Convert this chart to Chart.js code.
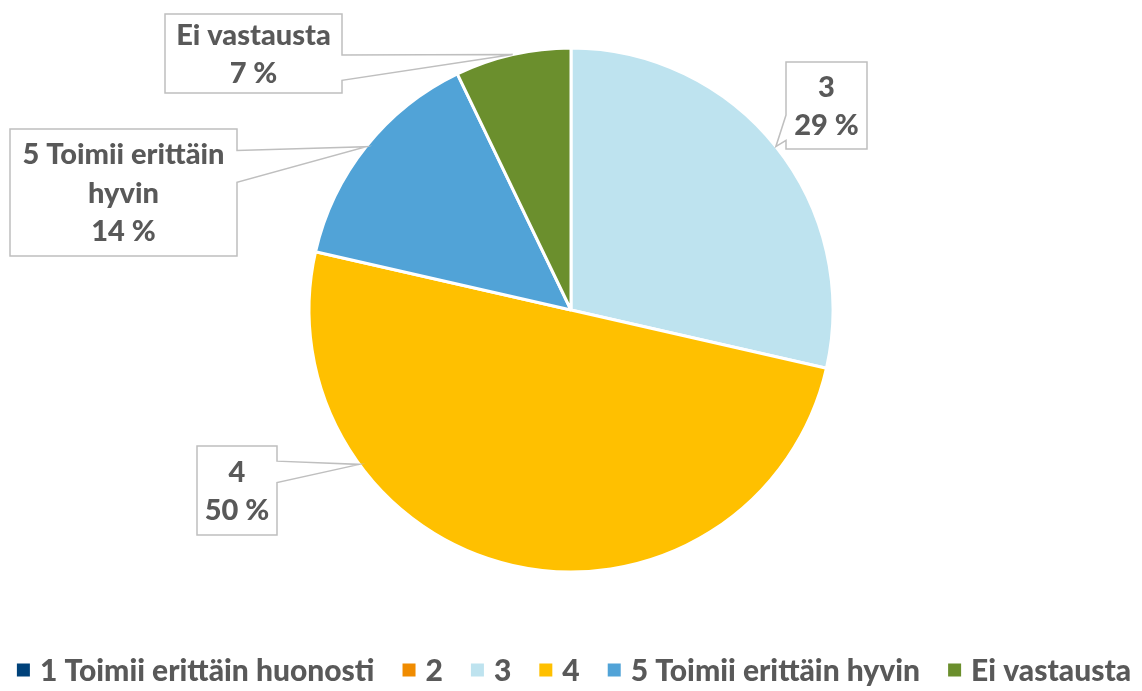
<!DOCTYPE html>
<html>
<head>
<meta charset="utf-8">
<script src="https://cdn.jsdelivr.net/npm/chart.js@4"></script>
<style>
  html, body { margin: 0; padding: 0; background: #ffffff; }
  #wrap { width: 1142px; height: 691px; }
</style>
</head>
<body>
<div id="wrap"><canvas id="c" width="1142" height="691"></canvas></div>
<script>
// ---- data ----
const categories = ['1 Toimii erittäin huonosti', '2', '3', '4', '5 Toimii erittäin hyvin', 'Ei vastausta'];
const responses = [0, 0, 4, 7, 2, 1];
const sliceColors = ['#00427A', '#F08C00', '#BEE3EF', '#FFC000', '#51A3D7', '#6B8F2D'];

// ---- callout layout (positions only) ----
const calloutLayout = {
  2: { box: [786, 62, 81, 87],  side: 'left',  wedge: [0.61, 0.90], frac: 0.5 },
  3: { box: [197, 446, 80, 89], side: 'right', wedge: [0.17, 0.41], frac: 0.728 },
  4: { box: [10, 129, 227, 127], side: 'right', wedge: [0.17, 0.42], frac: 0.5 },
  5: { box: [165, 14, 177, 79], side: 'right', wedge: [0.52, 0.84], frac: 0.5 }
};
const legendLayout = { centerX: 574, middleY: 670, box: 13, boxGap: 10, itemGap: 28, fontSize: 30 };

const TEXT_COLOR = '#595959';
const FONT_FAMILY = 'Lato, "Open Sans", "Liberation Sans", sans-serif';

function wrapText(ctx, text, maxW) {
  const words = text.split(' ');
  const lines = [];
  let cur = '';
  words.forEach(w => {
    const test = cur ? cur + ' ' + w : w;
    if (ctx.measureText(test).width > maxW && cur) { lines.push(cur); cur = w; }
    else cur = test;
  });
  if (cur) lines.push(cur);
  return lines;
}

const calloutPlugin = {
  id: 'callouts',
  afterDatasetsDraw(chart) {
    const ctx = chart.ctx;
    const meta = chart.getDatasetMeta(0);
    const data = chart.data.datasets[0].data;
    const total = data.reduce((a, b) => a + b, 0);
    ctx.save();
    ctx.font = '900 29px ' + FONT_FAMILY;
    Object.keys(calloutLayout).forEach(k => {
      const i = +k;
      if (!data[i]) return;
      const L = calloutLayout[i];
      const arc = meta.data[i];
      const p = arc.getProps(['x', 'y', 'startAngle', 'endAngle', 'outerRadius'], true);
      const a = p.startAngle + L.frac * (p.endAngle - p.startAngle);
      const ax = p.x + p.outerRadius * Math.cos(a);
      const ay = p.y + p.outerRadius * Math.sin(a);
      const [bx, by, bw, bh] = L.box;
      const y1 = by + L.wedge[0] * bh, y2 = by + L.wedge[1] * bh;
      ctx.beginPath();
      if (L.side === 'right') {
        ctx.moveTo(bx, by);
        ctx.lineTo(bx + bw, by);
        ctx.lineTo(bx + bw, y1);
        ctx.lineTo(ax, ay);
        ctx.lineTo(bx + bw, y2);
        ctx.lineTo(bx + bw, by + bh);
        ctx.lineTo(bx, by + bh);
        ctx.closePath();
      } else {
        ctx.moveTo(bx, by);
        ctx.lineTo(bx + bw, by);
        ctx.lineTo(bx + bw, by + bh);
        ctx.lineTo(bx, by + bh);
        ctx.lineTo(bx, y2);
        ctx.lineTo(ax, ay);
        ctx.lineTo(bx, y1);
        ctx.closePath();
      }
      ctx.fillStyle = '#ffffff';
      ctx.fill();
      ctx.lineWidth = 1.5;
      ctx.strokeStyle = '#BFBFBF';
      ctx.stroke();

      const pct = Math.round(data[i] / total * 100) + ' %';
      const lines = wrapText(ctx, chart.data.labels[i], bw - 6).concat([pct]);
      const lh = 38.5;
      const cy = by + bh / 2 + 1;
      ctx.fillStyle = TEXT_COLOR;
      ctx.textAlign = 'center';
      ctx.textBaseline = 'middle';
      lines.forEach((t, j) => {
        ctx.fillText(t, bx + bw / 2, cy + (j - (lines.length - 1) / 2) * lh);
      });
    });
    ctx.restore();
  }
};

const legendPlugin = {
  id: 'bottomLegend',
  afterDraw(chart) {
    const ctx = chart.ctx;
    const G = legendLayout;
    const labels = chart.data.labels;
    const colors = chart.data.datasets[0].backgroundColor;
    ctx.save();
    ctx.font = '900 ' + G.fontSize + 'px ' + FONT_FAMILY;
    const widths = labels.map(t => ctx.measureText(t).width);
    const total = widths.reduce((s, w) => s + G.box + G.boxGap + w, 0) + G.itemGap * (labels.length - 1);
    let x = G.centerX - total / 2;
    ctx.textBaseline = 'middle';
    ctx.textAlign = 'left';
    labels.forEach((t, i) => {
      ctx.fillStyle = colors[i];
      ctx.fillRect(x, G.middleY - G.box / 2, G.box, G.box);
      x += G.box + G.boxGap;
      ctx.fillStyle = TEXT_COLOR;
      ctx.fillText(t, x, G.middleY + 1);
      x += widths[i] + G.itemGap;
    });
    ctx.restore();
  }
};

new Chart(document.getElementById('c'), {
  type: 'pie',
  data: {
    labels: categories,
    datasets: [{
      data: responses,
      backgroundColor: sliceColors,
      borderColor: '#ffffff',
      borderWidth: 3
    }]
  },
  options: {
    responsive: false,
    animation: false,
    radius: 262,
    layout: { padding: { top: 0, bottom: 71, left: 0, right: 0 } },
    plugins: {
      tooltip: { enabled: false },
      legend: { display: false }
    }
  },
  plugins: [calloutPlugin, legendPlugin]
});
</script>
</body>
</html>
